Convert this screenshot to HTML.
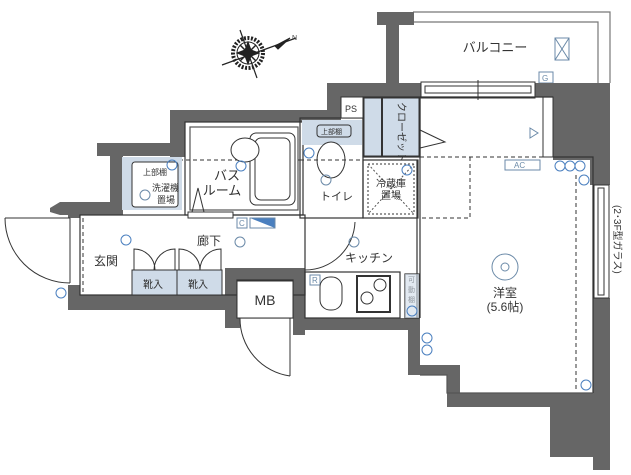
<!DOCTYPE html>
<html><head><meta charset="utf-8"><style>
html,body{margin:0;padding:0;background:#fff;}
svg{display:block;font-family:"Liberation Sans","Noto Sans CJK JP",sans-serif;}
</style></head><body>
<svg width="631" height="475" viewBox="0 0 631 475" xmlns="http://www.w3.org/2000/svg">
<rect width="631" height="475" fill="#fff"/>
<!-- compass -->
<g stroke="#222" fill="none">
<line x1="222" y1="65" x2="296" y2="38" stroke-width="1.2"/>
<line x1="240" y1="30" x2="257" y2="78" stroke-width="1.2"/>
<circle cx="248" cy="53" r="15" stroke-width="4" stroke-dasharray="2 1.5"/>
<circle cx="248" cy="53" r="11" stroke-width="1"/>
<path d="M248 42 L251 50 L259 53 L251 56 L248 64 L245 56 L237 53 L245 50Z" fill="#222"/>
<path d="M240 45 L256 61 M256 45 L240 61" stroke-width="1.5"/>
<path d="M275 46 L290 38 L278 49Z" fill="#222"/>
</g>
<text x="292" y="40" font-size="7" fill="#444">N</text>
<!-- balcony -->
<g fill="none" stroke="#777" stroke-width="1.2">
<polyline points="413,12 610,12 610,83"/>
<polyline points="413,22 598,22 598,83"/>
</g>
<rect x="555" y="38" width="14" height="22" fill="#fff" stroke="#6b8aa8"/>
<path d="M555 38 L569 60 M569 38 L555 60" stroke="#6b8aa8"/>
<rect x="539" y="72" width="14" height="11" fill="#fff" stroke="#6b8aa8"/>
<text x="542" y="81" font-size="8" fill="#6b8aa8">G</text>
<text x="495" y="52" font-size="13" fill="#333" text-anchor="middle">バルコニー</text>
<!-- walls -->
<g fill="#666">
<rect x="377" y="12" width="37" height="13"/>
<rect x="386" y="12" width="13" height="75"/>
<rect x="327" y="83" width="95" height="14"/>
<rect x="327" y="83" width="14" height="38"/>
<rect x="535" y="83" width="75" height="14"/>
<rect x="553" y="83" width="57" height="77"/>
<rect x="590" y="150" width="20" height="35"/>
<rect x="170" y="110" width="170" height="12"/>
<rect x="170" y="110" width="15" height="47"/>
<rect x="97" y="143" width="88" height="13"/>
<rect x="110" y="143" width="13" height="70"/>
<polygon points="50,208 60,202 123,202 123,215 60,215 50,212"/>
<rect x="68" y="206" width="12" height="12"/>
<rect x="68" y="285" width="12" height="25"/>
<rect x="68" y="295" width="160" height="15"/>
<rect x="225" y="268" width="15" height="60"/>
<rect x="225" y="268" width="80" height="12"/>
<rect x="293" y="268" width="12" height="67"/>
<rect x="293" y="318" width="127" height="12"/>
<rect x="408" y="318" width="12" height="57"/>
<rect x="408" y="365" width="52" height="10"/>
<rect x="447" y="365" width="13" height="42"/>
<rect x="447" y="393" width="148" height="14"/>
<rect x="550" y="393" width="45" height="64"/>
<rect x="593" y="298" width="17" height="172"/>
</g>
<!-- top window -->
<rect x="421" y="82" width="114" height="16" fill="#fff" stroke="#333"/>
<rect x="425" y="86" width="106" height="7" fill="#fff" stroke="#333"/>
<line x1="478" y1="80" x2="478" y2="100" stroke="#333"/>
<!-- right window -->
<rect x="594" y="185" width="15" height="113" fill="#fff" stroke="#333"/>
<rect x="598" y="188" width="6" height="107" fill="#fff" stroke="#333"/>
<text font-size="10" fill="#333" transform="translate(614,205) rotate(90)">(2･3F型ガラス)</text>
<!-- sliding in room right -->
<rect x="543" y="97" width="10" height="60" fill="#fff" stroke="#333"/>
<!-- interior thin walls -->
<g fill="none" stroke="#333" stroke-width="1.2">
<rect x="185" y="122" width="118" height="93"/>
<rect x="190" y="127" width="108" height="83" stroke="#555"/>
<rect x="300" y="118" width="63" height="100"/>
<rect x="363" y="97" width="57" height="60"/>
<rect x="363" y="160" width="55" height="58"/>
<line x1="420" y1="97" x2="420" y2="318"/>
<line x1="417" y1="160" x2="417" y2="318"/>
<polyline points="420,97 553,97"/>
<polyline points="553,157 593,157 593,393"/>
<polyline points="420,375 447,375 447,393 593,393" stroke="#555"/>
<rect x="305" y="272" width="95" height="46"/>
<rect x="405" y="274" width="14" height="44"/>
<rect x="237" y="280" width="56" height="38"/>
<rect x="80" y="215" width="225" height="80"/>
</g>
<!-- closet -->
<rect x="364" y="98" width="55" height="58" fill="#cfdbe8" stroke="#333"/>
<line x1="382" y1="98" x2="382" y2="156" stroke="#333" stroke-width="2"/>
<text font-size="10" fill="#333" transform="translate(398,102) rotate(90)">クローゼット</text>
<path d="M420 130 L445 142 L420 148" fill="none" stroke="#333"/>
<!-- PS -->
<rect x="341" y="97" width="22" height="21" fill="#fff" stroke="#333"/>
<text x="345" y="112" font-size="9" fill="#333">PS</text>
<!-- toilet -->
<rect x="302" y="120" width="60" height="25" fill="#cfdbe8"/>
<rect x="317" y="125" width="34" height="12" rx="3" fill="#cfdbe8" stroke="#333"/>
<text x="321" y="134" font-size="7" fill="#333">上部棚</text>
<ellipse cx="331" cy="160" rx="14" ry="18" fill="#fff" stroke="#333"/>
<text x="320" y="200" font-size="11" fill="#333">トイレ</text>
<circle cx="326" cy="180" r="5" fill="none" stroke="#6b8aa8"/>
<!-- fridge -->
<rect x="368" y="164" width="46" height="50" fill="none" stroke="#333" stroke-dasharray="2 2"/>
<path d="M368 164 L414 214 M414 164 L368 214" stroke="#555" stroke-dasharray="2 2"/>
<text x="391" y="187" font-size="10" fill="#333" text-anchor="middle">冷蔵庫</text>
<text x="391" y="199" font-size="10" fill="#333" text-anchor="middle">置場</text>
<!-- dashed upper lines -->
<g fill="none" stroke="#333" stroke-dasharray="4 3">
<line x1="123" y1="160" x2="300" y2="160"/>
<line x1="300" y1="160" x2="362" y2="160"/>
<polyline points="420,157 553,157"/>
<polyline points="470,157 470,218 420,218"/>
<line x1="576" y1="175" x2="576" y2="390"/>
<line x1="83" y1="218" x2="83" y2="292"/>
</g>
<rect x="505" y="160" width="35" height="10" fill="#fff" stroke="#6b8aa8"/>
<text x="514" y="168" font-size="8" fill="#6b8aa8">AC</text>
<!-- bathroom -->
<rect x="250" y="133" width="45" height="72" rx="6" fill="#fff" stroke="#333"/>
<rect x="255" y="138" width="35" height="62" rx="6" fill="#fff" stroke="#333"/>
<ellipse cx="245" cy="150" rx="14" ry="12" fill="#fff" stroke="#333"/>
<text x="227" y="180" font-size="13" fill="#333" text-anchor="middle">バス</text>
<text x="222" y="195" font-size="13" fill="#333" text-anchor="middle">ルーム</text>
<path d="M192 212 L198 188 L204 212" fill="none" stroke="#333"/>
<rect x="188" y="212" width="45" height="6" fill="#fff" stroke="#333"/>
<!-- washer -->
<rect x="122" y="157" width="60" height="53" fill="#cfdbe8"/>
<rect x="132" y="162" width="46" height="45" rx="3" fill="#fff" stroke="#333"/>
<text x="143" y="175" font-size="8" fill="#333">上部棚</text>
<text x="152" y="191" font-size="9" fill="#333">洗濯機</text>
<text x="157" y="203" font-size="9" fill="#333">置場</text>
<circle cx="145" cy="195" r="5" fill="none" stroke="#6b8aa8"/>
<!-- entrance door -->
<path d="M5 218 L70 218 M70 218 L70 283 M5 218 A65 65 0 0 0 70 283" fill="none" stroke="#333"/>
<text x="94" y="265" font-size="12" fill="#333">玄関</text>
<text x="197" y="245" font-size="12" fill="#333">廊下</text>
<circle cx="240" cy="242" r="5" fill="none" stroke="#6b8aa8"/>
<!-- shoe closets -->
<rect x="132" y="270" width="45" height="25" fill="#cfdbe8" stroke="#333"/>
<rect x="177" y="270" width="45" height="25" fill="#cfdbe8" stroke="#333"/>
<text x="143" y="288" font-size="10" fill="#333">靴入</text>
<text x="188" y="288" font-size="10" fill="#333">靴入</text>
<path d="M134 270 L134 249 A21 21 0 0 1 155 270 M175 270 L175 249 A21 21 0 0 0 154 270 M179 270 L179 249 A21 21 0 0 1 200 270 M221 270 L221 249 A21 21 0 0 0 200 270" fill="none" stroke="#333"/>
<rect x="237" y="218" width="10" height="10" fill="#fff" stroke="#6b8aa8"/>
<text x="239" y="226" font-size="8" fill="#6b8aa8">C</text>
<path d="M250 218 L275 218 L275 228Z" fill="#4a7fbf"/>
<rect x="250" y="218" width="25" height="10" fill="none" stroke="#6b8aa8"/>
<!-- MB -->
<rect x="237" y="281" width="56" height="37" fill="#fff" stroke="#333"/>
<text x="265" y="305" font-size="14" fill="#333" text-anchor="middle">MB</text>
<path d="M240 318 L290 318 L290 376 M240 318 A58 58 0 0 0 290 376" fill="none" stroke="#333"/>
<!-- kitchen -->
<path d="M305 270 A50 50 0 0 0 355 222" fill="none" stroke="#333"/>
<circle cx="354" cy="242" r="5" fill="none" stroke="#6b8aa8"/>
<text x="345" y="262" font-size="12" fill="#333">キッチン</text>
<rect x="310" y="275" width="10" height="10" fill="#fff" stroke="#6b8aa8"/>
<text x="312" y="283" font-size="8" fill="#6b8aa8">R</text>
<rect x="320" y="277" width="22" height="33" rx="10" fill="#fff" stroke="#333"/>
<rect x="357" y="276" width="33" height="36" fill="#fff" stroke="#333" stroke-width="2"/>
<circle cx="380" cy="285" r="6" fill="none" stroke="#333"/>
<circle cx="367" cy="298" r="6" fill="none" stroke="#333"/>
<text font-size="7" fill="#333" transform="translate(408,282)">可</text>
<text font-size="7" fill="#333" transform="translate(408,292)">動</text>
<text font-size="7" fill="#333" transform="translate(408,302)">棚</text>
<rect x="405" y="274" width="14" height="44" fill="#cfdbe8" fill-opacity="0.6"/>
<!-- western room -->
<circle cx="505" cy="267" r="13" fill="none" stroke="#6b8aa8"/>
<circle cx="505" cy="267" r="4" fill="none" stroke="#6b8aa8"/>
<text x="505" y="297" font-size="12" fill="#333" text-anchor="middle">洋室</text>
<text x="505" y="311" font-size="12" fill="#333" text-anchor="middle">(5.6帖)</text>
<!-- outlets -->
<g fill="none" stroke="#4a7fbf">
<circle cx="172" cy="165" r="5"/><circle cx="309" cy="153" r="5"/>
<circle cx="241" cy="166" r="5"/><circle cx="126" cy="240" r="5"/>
<circle cx="61" cy="293" r="5"/><circle cx="407" cy="170" r="5"/>
<circle cx="560" cy="166" r="5"/><circle cx="570" cy="166" r="5"/><circle cx="580" cy="166" r="5"/>
<circle cx="584" cy="180" r="5"/><circle cx="412" cy="311" r="5"/>
<circle cx="427" cy="338" r="5"/><circle cx="427" cy="350" r="5"/>
<circle cx="586" cy="385" r="5"/>
</g>
<path d="M530 128 L538 133 L530 138Z" fill="none" stroke="#6b8aa8"/>
</svg>
</body></html>
